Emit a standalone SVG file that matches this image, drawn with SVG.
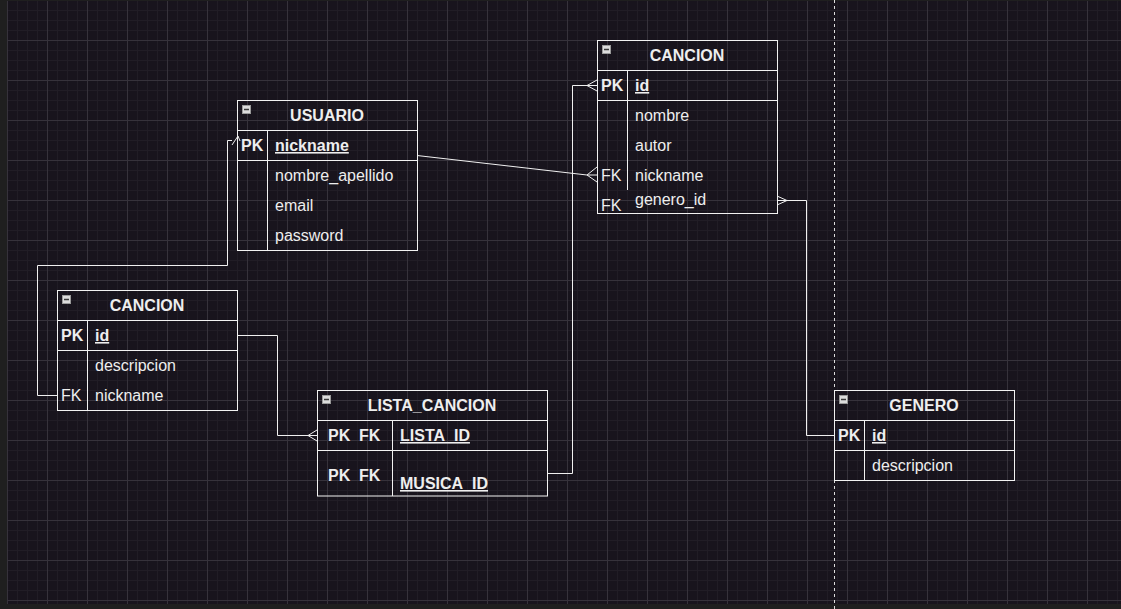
<svg xmlns="http://www.w3.org/2000/svg" width="1121" height="609" viewBox="0 0 1121 609">
<defs>
<pattern id="grid" patternUnits="userSpaceOnUse" x="7" y="0" width="40" height="40">
<rect width="40" height="40" fill="#18141d"/>
<path d="M10.5,0V40M20.5,0V40M30.5,0V40M0,10.5H40M0,20.5H40M0,30.5H40" stroke="#211d26" stroke-width="1"/>
<path d="M0.5,0V40M0,0.5H40" stroke="#36323b" stroke-width="1"/>
</pattern>
</defs>
<style>
.tb{fill:none;stroke:#f2f2f2;stroke-width:1}
.t{font-family:"Liberation Sans",Arial,sans-serif;font-size:16px;fill:#eeeeee}
.b{font-weight:bold}
.u{text-decoration:underline}
.h{font-family:"Liberation Sans",Arial,sans-serif;font-size:16px;font-weight:bold;fill:#eeeeee;text-anchor:middle}
.ic{fill:#dcdcdc;stroke:#9a9a9a;stroke-width:1}
.icm{stroke:#3a3a3a;stroke-width:1.5}
.c{fill:none;stroke:#f0f0f0;stroke-width:1}
</style>
<rect width="1121" height="609" fill="#1f1f1f"/>
<rect x="7" y="1" width="1114" height="603" fill="url(#grid)"/>
<line x1="834.5" y1="0" x2="834.5" y2="609" stroke="#dddddd" stroke-width="1" stroke-dasharray="3 3"/>

<g id="connectors">
<path class="c" d="M57,395.5H37.5V265.5H227.5V140.5H232M232,145L238,136L240,141"/>
<path class="c" d="M417,155.5L587,175M587,175L597,167M587,175L597,182M587,175H597"/>
<path class="c" d="M237,335.5H277.5V435.5H317M308,435.5L317,430M308,435.5L317,441"/>
<path class="c" d="M547,473.5H572.5V85.5H597M587,85.5L597,80M587,85.5L597,91"/>
<path class="c" d="M777,200.5H806.5V435.5H834M787,200.5L777,196M787,200.5L777,205"/>
</g>

<g id="usuario">
<rect class="tb" x="237.5" y="100.5" width="180" height="150"/>
<path class="tb" d="M237.5,130.5H417.5M237.5,160.5H417.5M267.5,130.5V250.5"/>
<rect class="ic" x="242.5" y="105.5" width="8" height="8"/><path class="icm" d="M244,109.5H249"/>
<text class="h" x="327" y="121">USUARIO</text>
<text class="t b" x="241" y="151">PK</text>
<text class="t b u" x="275" y="151">nickname</text>
<text class="t" x="275" y="181">nombre_apellido</text>
<text class="t" x="275" y="211">email</text>
<text class="t" x="275" y="241">password</text>
</g>

<g id="cancion-top">
<rect class="tb" x="597.5" y="40.5" width="180" height="173"/>
<path class="tb" d="M597.5,70.5H777.5M597.5,100.5H777.5M627.5,70.5V190"/>
<rect class="ic" x="602.5" y="45.5" width="8" height="8"/><path class="icm" d="M604,49.5H609"/>
<text class="h" x="687" y="61">CANCION</text>
<text class="t b" x="601" y="91">PK</text>
<text class="t b u" x="635" y="91">id</text>
<text class="t" x="635" y="121">nombre</text>
<text class="t" x="635" y="151">autor</text>
<text class="t" x="601" y="181">FK</text>
<text class="t" x="635" y="181">nickname</text>
<text class="t" x="601" y="211">FK</text>
<text class="t" x="635" y="205">genero_id</text>
</g>

<g id="cancion-left">
<rect class="tb" x="57.5" y="290.5" width="180" height="120"/>
<path class="tb" d="M57.5,320.5H237.5M57.5,350.5H237.5M87.5,320.5V410.5"/>
<rect class="ic" x="62.5" y="295.5" width="8" height="8"/><path class="icm" d="M64,299.5H69"/>
<text class="h" x="147" y="311">CANCION</text>
<text class="t b" x="61" y="341">PK</text>
<text class="t b u" x="95" y="341">id</text>
<text class="t" x="95" y="371">descripcion</text>
<text class="t" x="61" y="401">FK</text>
<text class="t" x="95" y="401">nickname</text>
</g>

<g id="lista-cancion">
<rect class="tb" x="317.5" y="390.5" width="230" height="105.5"/>
<path class="tb" d="M317.5,420.5H547.5M317.5,450.5H547.5M392.5,420.5V496"/>
<rect class="ic" x="322.5" y="395.5" width="8" height="8"/><path class="icm" d="M324,399.5H329"/>
<text class="h" x="432" y="411">LISTA_CANCION</text>
<text class="t b" x="328" y="441">PK</text>
<text class="t b" x="359" y="441">FK</text>
<text class="t b u" x="400" y="441">LISTA_ID</text>
<text class="t b" x="328" y="481">PK</text>
<text class="t b" x="359" y="481">FK</text>
<text class="t b u" x="400" y="489">MUSICA_ID</text>
</g>

<g id="genero">
<rect class="tb" x="834.5" y="390.5" width="180" height="90"/>
<path class="tb" d="M834.5,420.5H1014.5M834.5,450.5H1014.5M864.5,420.5V480.5"/>
<rect class="ic" x="839.5" y="395.5" width="8" height="8"/><path class="icm" d="M841,399.5H846"/>
<text class="h" x="924" y="411">GENERO</text>
<text class="t b" x="838" y="441">PK</text>
<text class="t b u" x="872" y="441">id</text>
<text class="t" x="872" y="471">descripcion</text>
</g>
</svg>
